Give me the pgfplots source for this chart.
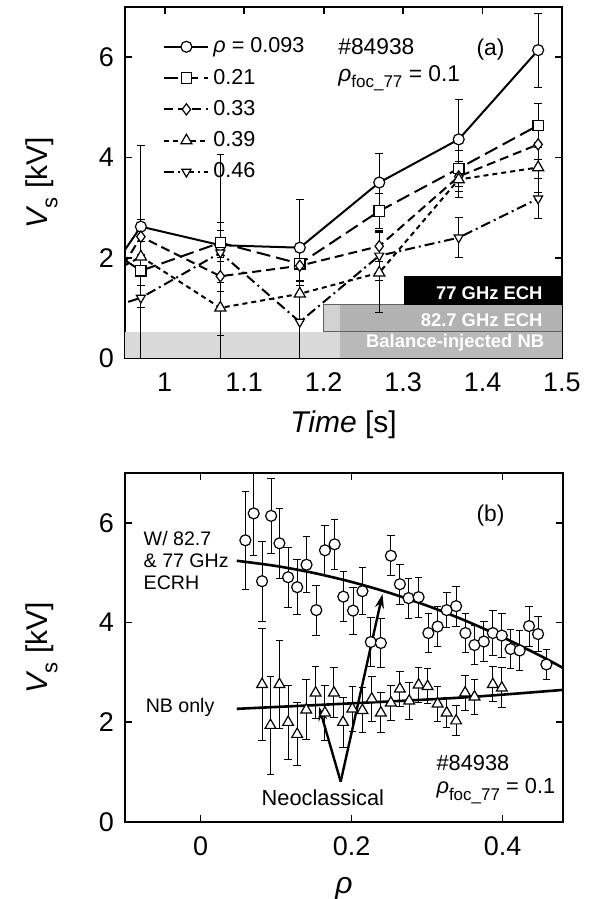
\documentclass[border=0pt]{standalone}
\usepackage{fontspec}
\setmainfont{Liberation Sans}
\usepackage{pgfplots}
\pgfplotsset{compat=1.18}
\usetikzlibrary{arrows.meta}

\newcommand{\rhofoc}{{\itshape ρ}\raisebox{-0.55ex}{\fontsize{8.5}{9}\selectfont foc\_77}}

\pgfplotsset{
  panel/.style={
    scale only axis,
    axis line style={line width=0.9pt},
    every tick/.style={line width=0.9pt, black},
    major tick length=3.5pt,
    tick align=inside,
    ymin=0, ymax=7, ytick={0,2,4,6},
    /pgf/number format/assume math mode=true,
    tick label style={font=\fontsize{13.5}{15}\selectfont},
    xticklabel style={yshift=-4pt},
    yticklabel style={xshift=-2pt},
    every axis y label/.style={at={(axis description cs:-0.19,0.5)}, rotate=90, anchor=center,
      font=\fontsize{15}{17}\selectfont},
    every axis x label/.style={at={(axis description cs:0.5,-0.19)}, anchor=center,
      font=\fontsize{15}{17}\selectfont},
    ylabel={{\itshape V}\raisebox{-0.6ex}{\fontsize{11}{12}\selectfont s} [kV]},
  },
  ebar/.style={error bars/.cd, y dir=both, y explicit,
    error bar style={solid, line width=0.5pt},
    error mark=|,
    error mark options={solid, mark size=1.9pt, line width=0.5pt}},
}

\begin{document}
\begin{tikzpicture}
% ---------------- panel (a) ----------------
\begin{axis}[panel,
  width=218.5pt, height=175.5pt,
  xmin=0.95, xmax=1.5,
  xtick={1,1.1,1.2,1.3,1.4,1.5},
  xlabel={{\itshape Time} [s]},
  legend style={at={(axis description cs:0.087,0.925)}, anchor=north west,
    draw=none, fill=none, inner sep=0pt, row sep=2.6pt,
    font=\fontsize{10.8}{12}\selectfont},
  legend cell align=left,
  legend image code/.code={\draw[mark repeat=2,mark phase=2,#1] plot coordinates {(0pt,0pt) (11pt,0pt) (22pt,0pt)};},
]
% heating bands
\addplot[forget plot, draw=none, fill=gray!30] coordinates {(0.95,0) (1.22,0) (1.22,0.52) (0.95,0.52)} -- cycle;
\addplot[forget plot, draw=none, fill=gray!55] coordinates {(1.22,0) (1.5,0) (1.5,0.52) (1.22,0.52)} -- cycle;
\addplot[forget plot, draw=none, fill=gray!35] coordinates {(1.2,0.52) (1.22,0.52) (1.22,1.06) (1.2,1.06)} -- cycle;
\addplot[forget plot, draw=none, fill=gray!60] coordinates {(1.22,0.52) (1.5,0.52) (1.5,1.06) (1.22,1.06)} -- cycle;
\addplot[forget plot, gray!75!black, line width=0.5pt] coordinates {(1.2,0.52) (1.5,0.52)};
\addplot[forget plot, gray!75!black, line width=0.5pt] coordinates {(1.2,0.52) (1.2,1.06) (1.5,1.06)};
\addplot[forget plot, draw=none, fill=black] coordinates {(1.301,1.06) (1.5,1.06) (1.5,1.64) (1.301,1.64)} -- cycle;
\node[anchor=base east, text=white, font=\bfseries\fontsize{9.2}{10}\selectfont, inner sep=0pt] at (axis cs:1.476,1.16) {77 GHz ECH};
\node[anchor=base east, text=white, font=\bfseries\fontsize{9.2}{10}\selectfont, inner sep=0pt] at (axis cs:1.476,0.62) {82.7 GHz ECH};
\node[anchor=base east, text=white, font=\bfseries\fontsize{9.2}{10}\selectfont, inner sep=0pt] at (axis cs:1.478,0.2) {Balance-injected NB};

\addplot[black, line width=1pt, mark=*, mark size=2.75pt, mark options={solid, fill=white, line width=0.6pt}, ebar]
  coordinates {(0.93,1.70) +- (0,0) (0.97,2.62) +- (0,1.62) (1.07,2.25) +- (0,1.8) (1.17,2.20) +- (0,0.96)
               (1.27,3.50) +- (0,0.58) (1.37,4.36) +- (0,0.80) (1.47,6.14) +- (0,0.74)};
\addlegendentry{{\itshape ρ} = 0.093}
\addplot[black, line width=1pt, dash pattern=on 7pt off 3pt, mark=square*, mark size=2.6pt, mark options={solid, fill=white, line width=0.6pt}, ebar]
  coordinates {(0.93,2.16) +- (0,0) (0.97,1.74) +- (0,0.3) (1.07,2.30) +- (0,0.25) (1.17,1.88) +- (0,0.35)
               (1.27,2.93) +- (0,0.35) (1.37,3.78) +- (0,0.35) (1.47,4.64) +- (0,0.44)};
\addlegendentry{0.21}
\addplot[black, line width=1pt, dash pattern=on 4.5pt off 2.5pt, mark=diamond*, mark size=2.8pt, mark options={solid, fill=white, line width=0.6pt}, ebar]
  coordinates {(0.93,1.38) +- (0,0) (0.97,2.42) +- (0,0.35) (1.07,1.63) +- (0,0.3) (1.17,1.84) +- (0,0.3)
               (1.27,2.23) +- (0,0.3) (1.37,3.62) +- (0,0.3) (1.47,4.26) +- (0,0.3)};
\addlegendentry{0.33}
\addplot[black, line width=1pt, dash pattern=on 2.5pt off 2pt, mark=triangle*, mark size=3.2pt, mark options={solid, fill=white, line width=0.6pt}, ebar]
  coordinates {(0.93,1.68) +- (0,0) (0.97,2.02) +- (0,0.3) (1.07,1.00) +- (0,1.0) (1.17,1.28) +- (0,0.55)
               (1.27,1.70) +- (0,0.8) (1.37,3.56) +- (0,0.35) (1.47,3.80) +- (0,0.5)};
\addlegendentry{0.39}
\addplot[black, line width=1pt, dash pattern=on 5pt off 2pt on 1pt off 2pt, mark=triangle*, mark size=2.6pt, mark options={solid, fill=white, line width=0.6pt, rotate=180}, ebar]
  coordinates {(0.93,1.00) +- (0,0) (0.97,1.20) +- (0,1.2) (1.07,2.10) +- (0,0.6) (1.17,0.72) +- (0,0.72)
               (1.27,2.04) +- (0,0.5) (1.37,2.40) +- (0,0.40) (1.47,3.18) +- (0,0.4)};
\addlegendentry{0.46}

\node[anchor=west, font=\fontsize{11.4}{13}\selectfont, inner sep=0pt] at (axis cs:1.218,6.2) {\#84938};
\node[anchor=west, font=\fontsize{11.4}{13}\selectfont, inner sep=0pt] at (axis cs:1.218,5.58) {\rhofoc{} = 0.1};
\node[font=\fontsize{11.4}{13}\selectfont, inner sep=0pt] at (axis cs:1.41,6.16) {(a)};
\end{axis}

% ---------------- panel (b) ----------------
\begin{axis}[panel,
  at={(0pt,-232pt)},
  width=219pt, height=174.5pt,
  xmin=-0.1, xmax=0.48,
  xtick={0,0.2,0.4},
  xlabel={{\itshape ρ}},
]
\addplot[only marks, black, mark=*, mark size=2.75pt, mark options={fill=white, line width=0.6pt}, ebar]
  coordinates {
  (0.0594,5.65) +- (0,0.98) (0.0704,6.19) +- (0,0.85) (0.0815,4.83) +- (0,0.8) (0.0935,6.14) +- (0,0.75)
  (0.1045,5.59) +- (0,0.7) (0.116,4.91) +- (0,0.6) (0.128,4.71) +- (0,0.55) (0.1404,5.16) +- (0,0.56)
  (0.1533,4.25) +- (0,0.5) (0.1648,5.45) +- (0,0.5) (0.1776,5.57) +- (0,0.5) (0.1891,4.52) +- (0,0.5)
  (0.202,4.24) +- (0,0.47) (0.2144,4.63) +- (0,0.47) (0.2255,3.61) +- (0,0.5) (0.2388,3.59) +- (0,0.5)
  (0.2521,5.34) +- (0,0.4) (0.264,4.77) +- (0,0.4) (0.2755,4.49) +- (0,0.4) (0.2888,4.51) +- (0,0.4)
  (0.3017,3.79) +- (0,0.4) (0.314,3.92) +- (0,0.4) (0.326,4.25) +- (0,0.35) (0.3385,4.33) +- (0,0.4)
  (0.3508,3.79) +- (0,0.4) (0.3628,3.55) +- (0,0.4) (0.3752,3.62) +- (0,0.4) (0.3871,3.79) +- (0,0.45)
  (0.399,3.74) +- (0,0.45) (0.4106,3.47) +- (0,0.4) (0.4226,3.44) +- (0,0.4) (0.435,3.93) +- (0,0.4)
  (0.447,3.77) +- (0,0.35) (0.458,3.16) +- (0,0.3)};
\addplot[only marks, black, mark=triangle*, mark size=3.1pt, mark options={fill=white, line width=0.6pt}, ebar]
  coordinates {
  (0.0815,2.76) +- (0,1.12) (0.0926,1.94) +- (0,0.98) (0.1045,2.76) +- (0,0.88) (0.116,2.0) +- (0,0.74)
  (0.128,1.76) +- (0,0.63) (0.14,2.25) +- (0,0.6) (0.1524,2.59) +- (0,0.52) (0.1648,2.19) +- (0,0.55)
  (0.1767,2.59) +- (0,0.5) (0.1887,2.0) +- (0,0.5) (0.201,2.27) +- (0,0.45) (0.2144,2.24) +- (0,0.45)
  (0.2268,2.47) +- (0,0.45) (0.2388,2.19) +- (0,0.4) (0.2521,2.39) +- (0,0.35) (0.264,2.67) +- (0,0.35)
  (0.2764,2.43) +- (0,0.37) (0.2888,2.75) +- (0,0.35) (0.3007,2.72) +- (0,0.35) (0.314,2.37) +- (0,0.35)
  (0.326,2.19) +- (0,0.3) (0.3385,2.03) +- (0,0.3) (0.3504,2.59) +- (0,0.35) (0.3628,2.51) +- (0,0.35)
  (0.3871,2.76) +- (0,0.35) (0.399,2.69) +- (0,0.4)};
% fitted curves
\addplot[black, line width=1.3pt, smooth] coordinates {
  (0.048,5.24) (0.10,5.135) (0.15,4.995) (0.20,4.815) (0.25,4.597) (0.30,4.339)
  (0.35,4.043) (0.40,3.707) (0.45,3.334) (0.48,3.09)};
\addplot[black, line width=1.3pt, smooth] coordinates {
  (0.048,2.27) (0.20,2.38) (0.35,2.50) (0.48,2.65)};

\draw[line width=1.2pt, -{Stealth[length=7pt,width=4.5pt]}] (axis cs:0.1856,0.81) -- (axis cs:0.157,2.31);
\draw[line width=1.2pt, -{Stealth[length=7pt,width=4.5pt]}] (axis cs:0.1856,0.81) -- (axis cs:0.241,4.57);

\node[font=\fontsize{10.9}{12}\selectfont, inner sep=0pt] at (axis cs:0.162,0.48) {Neoclassical};
\node[anchor=west, align=left, font=\fontsize{9.8}{11}\selectfont, inner sep=0pt] at (axis cs:-0.0757,5.24) {W/ 82.7\\\& 77 GHz\\ECRH};
\node[anchor=west, font=\fontsize{9.8}{11}\selectfont, inner sep=0pt] at (axis cs:-0.073,2.3) {NB only};
\node[anchor=west, font=\fontsize{10.9}{12}\selectfont, inner sep=0pt] at (axis cs:0.312,1.18) {\#84938};
\node[anchor=west, font=\fontsize{10.9}{12}\selectfont, inner sep=0pt] at (axis cs:0.312,0.62) {\rhofoc{} = 0.1};
\node[font=\fontsize{11.4}{13}\selectfont, inner sep=0pt] at (axis cs:0.384,6.14) {(b)};
\end{axis}

\pgfresetboundingbox
\path (-62.5pt,-270.5pt) rectangle (233pt,179pt);
\end{tikzpicture}
\end{document}
